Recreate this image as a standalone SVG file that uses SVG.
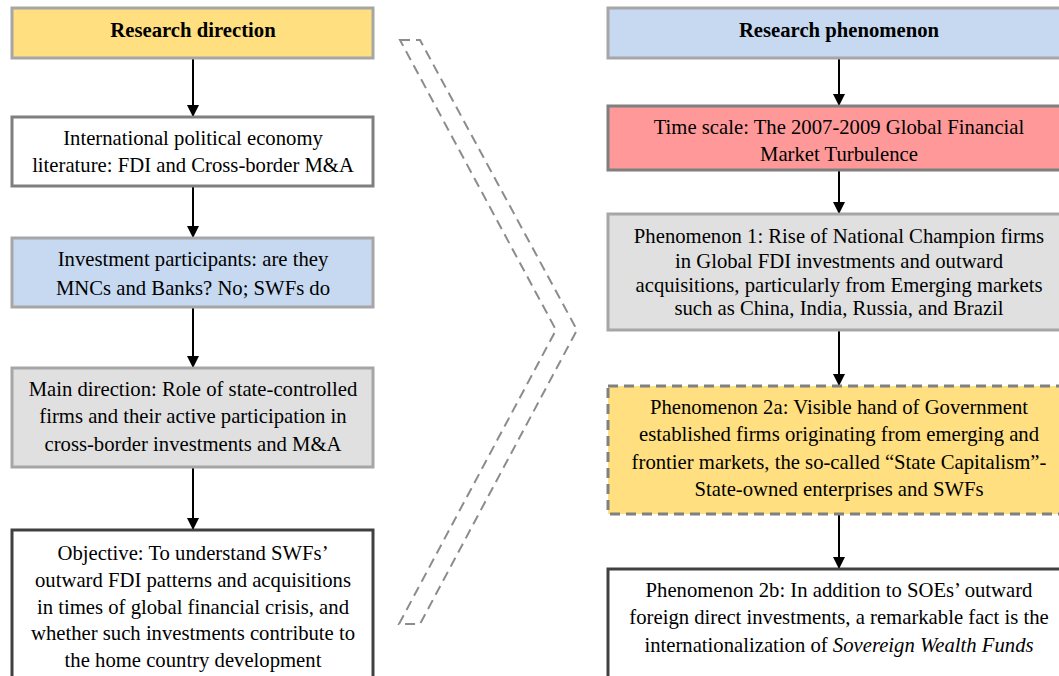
<svg xmlns="http://www.w3.org/2000/svg" width="1059" height="676" viewBox="0 0 1059 676">
<defs>
<marker id="ah" markerWidth="12" markerHeight="12" viewBox="0 0 12 12" refX="11" refY="6" orient="auto" markerUnits="userSpaceOnUse">
<path d="M0,0 L12,6 L0,12 Z" fill="#000"/>
</marker>
<style>
text{font-family:"Liberation Serif","Times New Roman",serif;font-size:20.7px;fill:#000;text-anchor:middle}
.b{font-weight:bold}
.yel{fill:#FFDF7F}
.blue{fill:#C6D9F0}
.gray{fill:#E0E0E0}
.red{fill:#FF9999}
.white{fill:#FFFFFF}
.s1{stroke:#A6A6A6;stroke-width:3}
.s2{stroke:#7F7F7F;stroke-width:3}
.s3{stroke:#404040;stroke-width:3}
.dash{stroke:#808080;stroke-width:3;stroke-dasharray:10 6}
.conn{stroke:#000;stroke-width:2;fill:none;marker-end:url(#ah)}
</style>
</defs>
<rect width="1059" height="676" fill="#fff"/>

<g id="chevron">
<path d="M400,40 L420,40 L577,330 L420,624 L399,624 L556,330 Z" fill="none" stroke="#8C8C8C" stroke-width="2" stroke-dasharray="10 6"/>
</g>

<g id="connectors">
<line class="conn" x1="193" y1="58" x2="193" y2="116"/>
<line class="conn" x1="193" y1="186" x2="193" y2="237"/>
<line class="conn" x1="193" y1="307" x2="193" y2="367"/>
<line class="conn" x1="193" y1="467" x2="193" y2="529"/>
<line class="conn" x1="839" y1="58" x2="839" y2="105"/>
<line class="conn" x1="839" y1="170" x2="839" y2="213"/>
<line class="conn" x1="839" y1="330" x2="839" y2="385"/>
<line class="conn" x1="839" y1="514" x2="839" y2="568"/>
</g>

<g id="n-research-direction">
<rect x="12" y="8" width="361" height="50" class="yel s1"/>
<text x="193" y="37" class="b">Research direction</text>
</g>
<g id="n-ipe">
<rect x="12" y="117" width="361" height="69" class="white s2"/>
<text x="193" y="145">International political economy</text>
<text x="193" y="172">literature: FDI and Cross-border M&amp;A</text>
</g>
<g id="n-participants">
<rect x="12" y="238" width="361" height="69" class="blue s1"/>
<text x="193" y="266">Investment participants: are they</text>
<text x="193" y="295">MNCs and Banks? No; SWFs do</text>
</g>
<g id="n-main">
<rect x="12" y="368" width="361" height="99" class="gray s1"/>
<text x="193" y="396">Main direction: Role of state-controlled</text>
<text x="193" y="423">firms and their active participation in</text>
<text x="193" y="451">cross-border investments and M&amp;A</text>
</g>
<g id="n-objective">
<rect x="12" y="530" width="361" height="160" class="white s3"/>
<text x="193" y="560">Objective: To understand SWFs’</text>
<text x="193" y="587">outward FDI patterns and acquisitions</text>
<text x="193" y="614">in times of global financial crisis, and</text>
<text x="193" y="640">whether such investments contribute to</text>
<text x="193" y="667">the home country development</text>
</g>

<g id="n-research-phenomenon">
<rect x="608" y="8" width="462" height="50" class="blue s1"/>
<text x="839" y="37" class="b">Research phenomenon</text>
</g>
<g id="n-timescale">
<rect x="608" y="106" width="462" height="64" class="red s2"/>
<text x="839" y="134">Time scale: The 2007-2009 Global Financial</text>
<text x="839" y="161">Market Turbulence</text>
</g>
<g id="n-phen1">
<rect x="608" y="214" width="462" height="116" class="gray s1"/>
<text x="839" y="243">Phenomenon 1: Rise of National Champion firms</text>
<text x="839" y="268">in Global FDI investments and outward</text>
<text x="839" y="292">acquisitions, particularly from Emerging markets</text>
<text x="839" y="315">such as China, India, Russia, and Brazil</text>
</g>
<g id="n-phen2a">
<rect x="608" y="386" width="462" height="128" class="yel dash"/>
<text x="839" y="414">Phenomenon 2a: Visible hand of Government</text>
<text x="839" y="441">established firms originating from emerging and</text>
<text x="839" y="469">frontier markets, the so-called “State Capitalism”-</text>
<text x="839" y="496">State-owned enterprises and SWFs</text>
</g>
<g id="n-phen2b">
<rect x="608" y="569" width="462" height="120" class="white s3"/>
<text x="839" y="597">Phenomenon 2b: In addition to SOEs’ outward</text>
<text x="839" y="624">foreign direct investments, a remarkable fact is the</text>
<text x="839" y="652">internationalization of <tspan font-style="italic">Sovereign Wealth Funds</tspan></text>
</g>
</svg>
